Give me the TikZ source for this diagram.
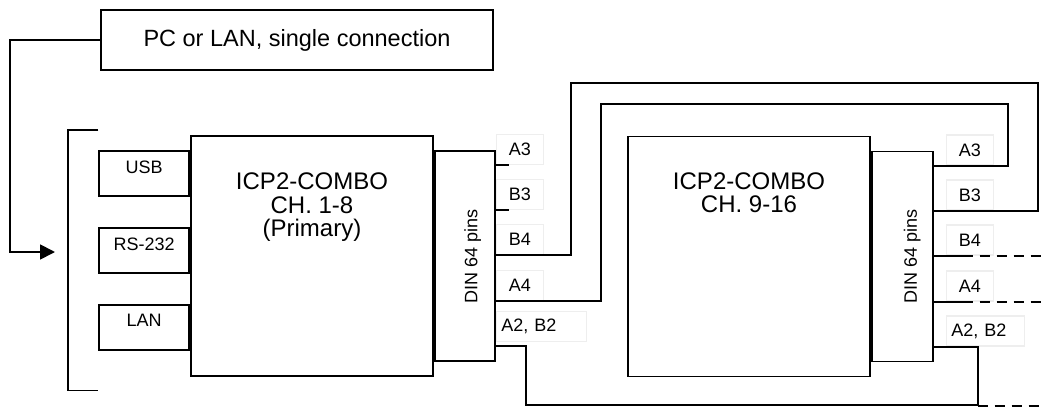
\documentclass[tikz,border=0pt]{standalone}
\usepackage{fontspec}
\setmainfont{Liberation Sans}
\usetikzlibrary{arrows.meta,calc,positioning}

\definecolor{pingrey}{HTML}{EEEEEE}

\begin{document}
\begin{tikzpicture}[x=1pt,y=-1pt,>={Triangle[length=15pt,width=15pt]},
  line width=1.8pt,
  box/.style={draw,inner sep=0pt},
  unit/.style={box,minimum width=242,minimum height=240},
  din/.style={box,minimum width=60,minimum height=210},
  port/.style={box,minimum width=90,minimum height=45},
  portlbl/.style={anchor=north,inner sep=0pt,yshift=-10pt,font=\fontsize{18}{20}\selectfont},
  title/.style={inner sep=0pt,align=center,font=\fontsize{24}{23.5}\selectfont},
  pinlbl/.style={draw=pingrey,line width=1.2pt,inner sep=0pt,minimum width=47,minimum height=30,
    font=\fontsize{18}{20}\selectfont},
  pinwide/.style={pinlbl,align=left,text width=80,inner xsep=5pt},
  wire/.style={line width=1.8pt},
  loose/.style={wire,dash pattern=on 10pt off 7pt}]
\useasboundingbox (0,0) rectangle (1042,407);
% host side
\node[box,minimum width=392,minimum height=60,font=\fontsize{23.5}{26}\selectfont] (pc) at (297,40) {PC or LAN, single connection};
\node[unit] (prim) at (312,256) {};
\node[title,below=37pt of prim.north] (primtxt) {ICP2-COMBO\\CH. 1-8\\(Primary)};
\node[port,anchor=north east,label={[portlbl]north:USB}] (usb) at ($(prim.north west)+(0,15)$) {};
\node[port,below=30pt of usb,label={[portlbl]north:RS-232}] (rs) {};
\node[port,below=30pt of rs,label={[portlbl]north:LAN}] (lan) {};
\node[din,anchor=north west] (din1) at ($(prim.north east)+(0,15)$) {};
\node[rotate=90,inner sep=0pt,font=\fontsize{18}{20}\selectfont] (din1txt) at ($(din1.center)+(8,0)$) {DIN 64 pins};
% expansion unit
\node[unit] (sec) at (749,256.5) {};
\node[title,below=36pt of sec.north] (sectxt) {ICP2-COMBO\\CH. 9-16};
\node[din,anchor=north west,minimum width=61] (din2) at ($(sec.north east)+(0,15)$) {};
\node[rotate=90,inner sep=0pt,font=\fontsize{18}{20}\selectfont] (din2txt) at ($(din2.center)+(10,0)$) {DIN 64 pins};
% pin taps
\foreach \n/\dy in {a3/15,b3/60,b4/105,a4/151,ab/196}{
  \coordinate (p\n) at ($(din1.north east)+(0,\dy)$);
  \coordinate (q\n) at ($(din2.north east)+(0,\dy)$);
}
\foreach \n/\t in {a3/A3,b3/B3,b4/B4,a4/A4}{
  \node[pinlbl,anchor=south west] (pl\n) at (p\n) {\t};
  \node[pinlbl,anchor=south west] (ql\n) at ($(q\n)+(12,0)$) {\t};
}
\node[pinwide,anchor=south west] (plab) at ($(pab)+(0,-4)$) {A2, B2};
\node[pinwide,text width=68,anchor=south west] (qlab) at ($(qab)+(12,0)$) {A2, B2};
% interface bracket and host link
\draw[wire] ($(usb.north west)+(0,-20)$) -- ++(-30,0) |- ($(lan.south west)+(0,40)$);
\coordinate (tip) at (55,252);
\draw[wire,->] (pc.west) -- ++(-90,0) |- (tip);
% cabling
\draw[wire] (pa3) -- ++(13,0);
\draw[wire] (pb3) -- ++(13,0);
\draw[wire] (pb4) -| ++(75,-172) -| ($(qb3)+(104,0)$) -- (qb3);
\draw[wire] (pa4) -| ++(105,-197) -| ($(qa3)+(74,0)$) -- (qa3);
\draw[wire] (pab) -| ++(30,59) -| ($(qab)+(44,0)$) -- (qab);
\draw[loose] ($(qab)+(44,59)$) -- ++(67,0);
\draw[wire] (qb4) -- ++(29,0) coordinate (qb4end);
\draw[loose] (qb4end) -- ++(82,0);
\draw[wire] (qa4) -- ++(29,0) coordinate (qa4end);
\draw[loose] (qa4end) -- ++(82,0);
\end{tikzpicture}
\end{document}
